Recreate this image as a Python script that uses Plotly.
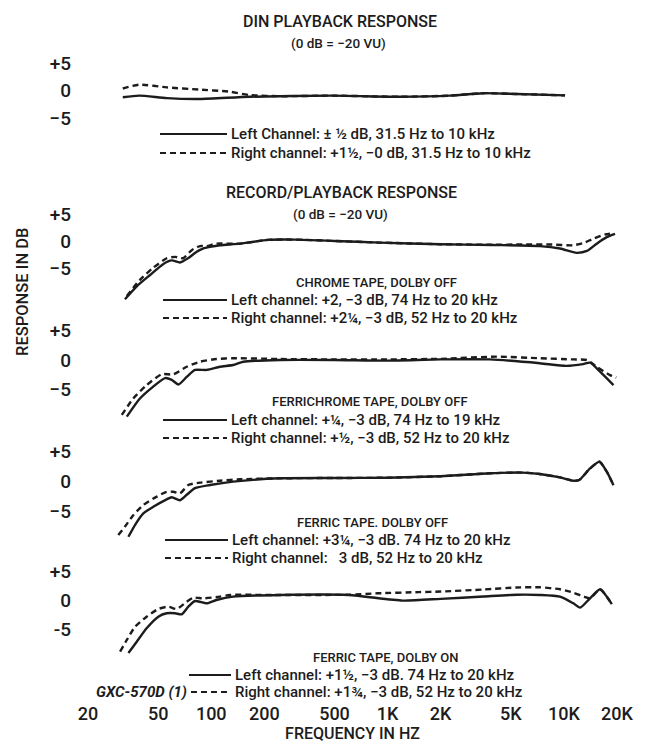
import plotly.graph_objects as go

W, H = 659, 745
FONT = "Roboto, Liberation Sans, sans-serif"
WT = 500
INK = "#1c1c1c"

# ---------------- data (frequency in Hz, response in dB) ----------------
din_left_hz = [31.5, 39, 56, 86, 166, 490, 1180, 2260, 3480, 5420, 10150]
din_left_db = [-1.2, -0.9, -1.35, -1.5, -1.1, -0.9, -1.1, -0.9, -0.45, -0.6, -0.85]
din_right_hz = [31.5, 39, 56, 86, 125, 166, 250, 490, 1180, 2260, 3480, 5420, 10150]
din_right_db = [0.4, 1.1, 0.6, 0.2, -0.15, -0.8, -1.0, -0.9, -1.1, -0.9, -0.45, -0.6, -0.85]

chrome_left_hz = [32.4, 37.8, 45, 53.3, 59.7, 66.5, 73.9, 82.7, 89.8, 98.4, 112, 146, 210, 300,
                  500, 900, 2000, 3900, 7300, 9500, 11800, 13500, 15350, 17500, 19500]
chrome_left_db = [-10.7, -8.3, -6.2, -4.2, -3.5, -3.9, -3.1, -1.9, -1.3, -1.0, -0.7, -0.4, 0.3, 0.35,
                  0.1, -0.2, -0.5, -0.65, -0.85, -1.3, -2.1, -1.75, -0.4, 0.8, 1.4]
chrome_right_hz = [33.2, 39.4, 46.7, 55.9, 62.3, 69.2, 77.5, 86.3, 94.2, 107, 146, 210, 300, 500,
                   900, 2000, 3900, 5860, 8340, 11270, 12850, 14630, 17120, 19000]
chrome_right_db = [-10.1, -7.1, -4.9, -3.1, -2.85, -3.1, -1.6, -0.85, -0.85, -0.4, -0.4, 0.3, 0.35, 0.1,
                   -0.2, -0.5, -0.6, -0.55, -0.55, -0.7, -0.3, 0.5, 1.3, 1.5]

fchrome_left_hz = [33.2, 39.4, 46.7, 54.7, 59.7, 65.1, 72.6, 80.9, 94.3, 112, 133, 152, 246, 500,
                   1000, 2000, 3800, 7300, 10300, 12850, 14070, 16030, 19100]
fchrome_left_db = [-9.7, -6.6, -4.6, -3.1, -3.4, -4.2, -2.9, -1.7, -1.7, -1.15, -0.86, -0.3, 0.0, 0.0,
                   -0.1, 0.1, 0.1, -0.55, -1.0, -0.7, -0.45, -2.0, -4.3]
fchrome_right_hz = [31.1, 36.1, 43.0, 52.3, 61.0, 72.6, 86.3, 107, 133, 246, 500, 1000, 2000, 4160,
                    7330, 11300, 13500, 15350, 18270, 19800]
fchrome_right_db = [-9.4, -6.6, -4.3, -2.45, -2.45, -1.15, -0.3, 0.17, 0.3, 0.17, 0.1, 0.1, 0.2, 0.57,
                    0.3, 0.1, 0.0, -1.15, -2.6, -3.0]

ferric_left_hz = [33.9, 37.0, 41.2, 46.9, 55.9, 59.7, 66.5, 72.6, 80.9, 98.4, 133, 246, 500, 1000,
                  2000, 3800, 5800, 7300, 9500, 11300, 12200, 14070, 15900, 17500, 19100]
ferric_left_db = [-9.3, -7.3, -5.4, -4.3, -3.05, -2.7, -3.2, -2.3, -1.2, -0.67, -0.1, 0.45, 0.5, 0.55,
                  0.8, 1.28, 1.4, 1.17, 0.6, 0.05, 0.17, 2.1, 3.2, 1.55, -0.7]
ferric_right_hz = [29.7, 32.4, 36.1, 41.2, 49.1, 55.9, 60.9, 66.5, 74.1, 86.3, 112, 146, 246, 500,
                   1000, 2000, 3800, 5800, 7300, 9500, 11300, 12200, 14070, 15900, 17500, 19100]
ferric_right_db = [-9.0, -7.6, -5.7, -4.0, -2.6, -1.8, -1.8, -2.05, -0.67, -0.28, 0.05, 0.28, 0.45, 0.5,
                   0.55, 0.8, 1.28, 1.4, 1.17, 0.6, 0.05, 0.17, 2.1, 3.2, 1.55, -0.7]

dolby_left_hz = [33.9, 37.8, 43.0, 50.1, 55.9, 62.3, 68.0, 74.1, 80.9, 94.3, 107, 133, 246, 600,
                 1220, 2000, 3500, 5400, 7300, 9500, 11300, 12350, 14070, 16030, 17510, 18690]
dolby_left_db = [-9.1, -7.15, -4.85, -2.86, -2.28, -2.28, -2.45, -1.15, -0.17, -0.57, 0.0, 0.57, 0.86, 0.86,
                 -0.1, 0.2, 0.6, 0.9, 0.86, 0.57, -0.57, -1.3, 0.3, 1.84, 0.57, -0.7]
dolby_right_hz = [30.4, 33.2, 37.0, 43.0, 50.1, 57.1, 63.7, 72.6, 79.1, 90.2, 112, 128, 246, 600,
                  880, 1500, 2000, 3500, 5400, 7300, 9500, 11300, 13000, 14070, 16030, 17510, 18690]
dolby_right_db = [-8.87, -6.86, -4.58, -2.86, -1.54, -1.15, -1.54, -0.29, 0.4, 0.29, 0.57, 0.86, 0.86, 0.9,
                  1.15, 1.35, 1.45, 1.8, 2.15, 2.18, 1.84, 1.26, 0.57, 0.29, 1.84, 0.57, -0.7]

left_labels = [
    "Left Channel: \u00b1 \u00bd dB, 31.5 Hz to 10 kHz",
    "Left channel: +2, \u22123 dB, 74 Hz to 20 kHz",
    "Left channel: +\u00bc, \u22123 dB, 74 Hz to 19 kHz",
    "Left channel: +3\u00bc, \u22123 dB. 74 Hz to 20 kHz",
    "Left channel: +1\u00bd, \u22123 dB. 74 Hz to 20 kHz",
]
right_labels = [
    "Right channel: +1\u00bd, \u22120 dB, 31.5 Hz to 10 kHz",
    "Right channel: +2\u00bc, \u22123 dB, 52 Hz to 20 kHz",
    "Right channel: +\u00bd, \u22123 dB, 52 Hz to 20 kHz",
    "Right channel:   3 dB, 52 Hz to 20 kHz",
    "Right channel: +1\u00be, \u22123 dB, 52 Hz to 20 kHz",
]
panel_titles = ["", "CHROME TAPE, DOLBY OFF", "FERRICHROME TAPE, DOLBY OFF",
                "FERRIC TAPE. DOLBY OFF", "FERRIC TAPE, DOLBY ON"]
x_tick_vals = [20, 50, 100, 200, 500, 1000, 2000, 5000, 10000, 20000]
x_tick_text = ["20", "50", "100", "200", "500", "1K", "2K", "5K", "10K", "20K"]
y_tick_vals = [-5, 0, 5]

series = [
    (din_left_hz, din_left_db, din_right_hz, din_right_db),
    (chrome_left_hz, chrome_left_db, chrome_right_hz, chrome_right_db),
    (fchrome_left_hz, fchrome_left_db, fchrome_right_hz, fchrome_right_db),
    (ferric_left_hz, ferric_left_db, ferric_right_hz, ferric_right_db),
    (dolby_left_hz, dolby_left_db, dolby_right_hz, dolby_right_db),
]

# ---------------- layout geometry (pixels from top-left) ----------------
zero_px = [90.7, 241.5, 360.0, 481.0, 600.0]     # y pixel of the 0 dB tick per panel
px_per_db = [5.5, 5.4, 5.84, 6.0, 5.83]
legend_rows_px = [(134, 153), (300, 318), (420, 438), (540, 558), (675, 692)]
legend_line_px = [(160, 227), (163, 227), (163, 227), (165, 228), (189, 231)]
title_px = [None, 282, 402, 522, 657]
title_x_px = [None, 376, 370, 372, 385]
X_LEFT, X_RIGHT = 88, 617
DB_LO, DB_HI = -12, 6

def px_x(v):
    return v / W

def px_y(v):
    return 1 - v / H

def fnt(size, **kw):
    d = dict(size=size, family=FONT, color=INK, weight=WT)
    d.update(kw)
    return d

fig = go.Figure()
layout = dict(
    width=W, height=H, margin=dict(l=0, r=0, t=0, b=0),
    paper_bgcolor="white", plot_bgcolor="rgba(0,0,0,0)",
    font=fnt(14), showlegend=False, template="none",
)

line_w = 2.4
dash_pat = "6px,4px"
shapes = []
ann = []

def add_text(text, xpx, ypx, size, **kw):
    d = dict(text=text, x=px_x(xpx), y=px_y(ypx), xref="paper", yref="paper",
             showarrow=False, font=fnt(size), xanchor="center", yanchor="middle")
    d.update(kw)
    ann.append(d)

for i, (lh, ld, rh, rd) in enumerate(series):
    n = "" if i == 0 else str(i + 1)
    yname = "y" + n
    fig.add_trace(go.Scatter(
        x=rh, y=rd, xaxis="x", yaxis=yname, mode="lines", name=right_labels[i],
        line=dict(color=INK, width=line_w, dash=dash_pat, shape="spline", smoothing=0.6),
        hoverinfo="skip"))
    fig.add_trace(go.Scatter(
        x=lh, y=ld, xaxis="x", yaxis=yname, mode="lines", name=left_labels[i],
        line=dict(color=INK, width=line_w, shape="spline", smoothing=0.6),
        hoverinfo="skip"))

    top = zero_px[i] - DB_HI * px_per_db[i]
    bot = zero_px[i] - DB_LO * px_per_db[i]
    ticktext = ["\u22125" if i < 4 else "-5", "0", "+5"]
    layout["yaxis" + n] = dict(
        domain=[px_y(bot), px_y(top)], range=[DB_LO, DB_HI],
        tickvals=y_tick_vals, ticktext=ticktext, showgrid=False, zeroline=False,
        showline=False, ticks="", anchor="free", position=px_x(X_LEFT),
        ticklabelstandoff=17, tickfont=fnt(19),
        automargin=False, fixedrange=True,
    )

    # legend keys: line samples + text
    (r1, r2) = legend_rows_px[i]
    (lx0, lx1) = legend_line_px[i]
    shapes.append(dict(type="line", xref="paper", yref="paper", x0=px_x(lx0), x1=px_x(lx1),
                       y0=px_y(r1), y1=px_y(r1), line=dict(color=INK, width=1.9)))
    shapes.append(dict(type="line", xref="paper", yref="paper",
                       x0=px_x(lx0 + (2 if i == 4 else 0)), x1=px_x(lx1),
                       y0=px_y(r2), y1=px_y(r2), line=dict(color=INK, width=1.9, dash=dash_pat)))
    add_text(left_labels[i], lx1 + 2, r1, 15, xanchor="left")
    add_text(right_labels[i], lx1 + 2, r2, 15, xanchor="left")
    if panel_titles[i]:
        add_text(panel_titles[i], title_x_px[i], title_px[i], 13)

layout["xaxis"] = dict(
    type="log", range=[1.30103, 4.30103], domain=[px_x(X_LEFT), px_x(X_RIGHT)],
    tickvals=x_tick_vals, ticktext=x_tick_text, showgrid=False, zeroline=False,
    showline=False, ticks="", anchor="free", position=px_y(701),
    tickfont=fnt(18), automargin=False, fixedrange=True,
    title=dict(text="FREQUENCY IN HZ", font=fnt(16), standoff=3),
)

add_text("DIN PLAYBACK RESPONSE", 340, 21, 16)
add_text("(0 dB = \u221220 VU)", 338, 43, 13.5)
add_text("RECORD/PLAYBACK RESPONSE", 341, 192, 16)
add_text("(0 dB = \u221220 VU)", 340, 214, 13.5)
add_text("RESPONSE IN DB", 22, 292, 16.5, textangle=-90)
ann.append(dict(text="<b><i>GXC-570D (1)</i></b>", x=px_x(189), y=px_y(692), xref="paper",
                yref="paper", showarrow=False, xanchor="right", yanchor="middle",
                font=fnt(15, weight=700)))
layout["annotations"] = ann
layout["shapes"] = shapes

fig.update_layout(**layout)
fig.write_html("out.html", config={"displayModeBar": False, "staticPlot": True},
               post_script="document.body.style.margin='0';document.body.style.padding='0';"
                           "document.body.style.overflow='hidden';")
